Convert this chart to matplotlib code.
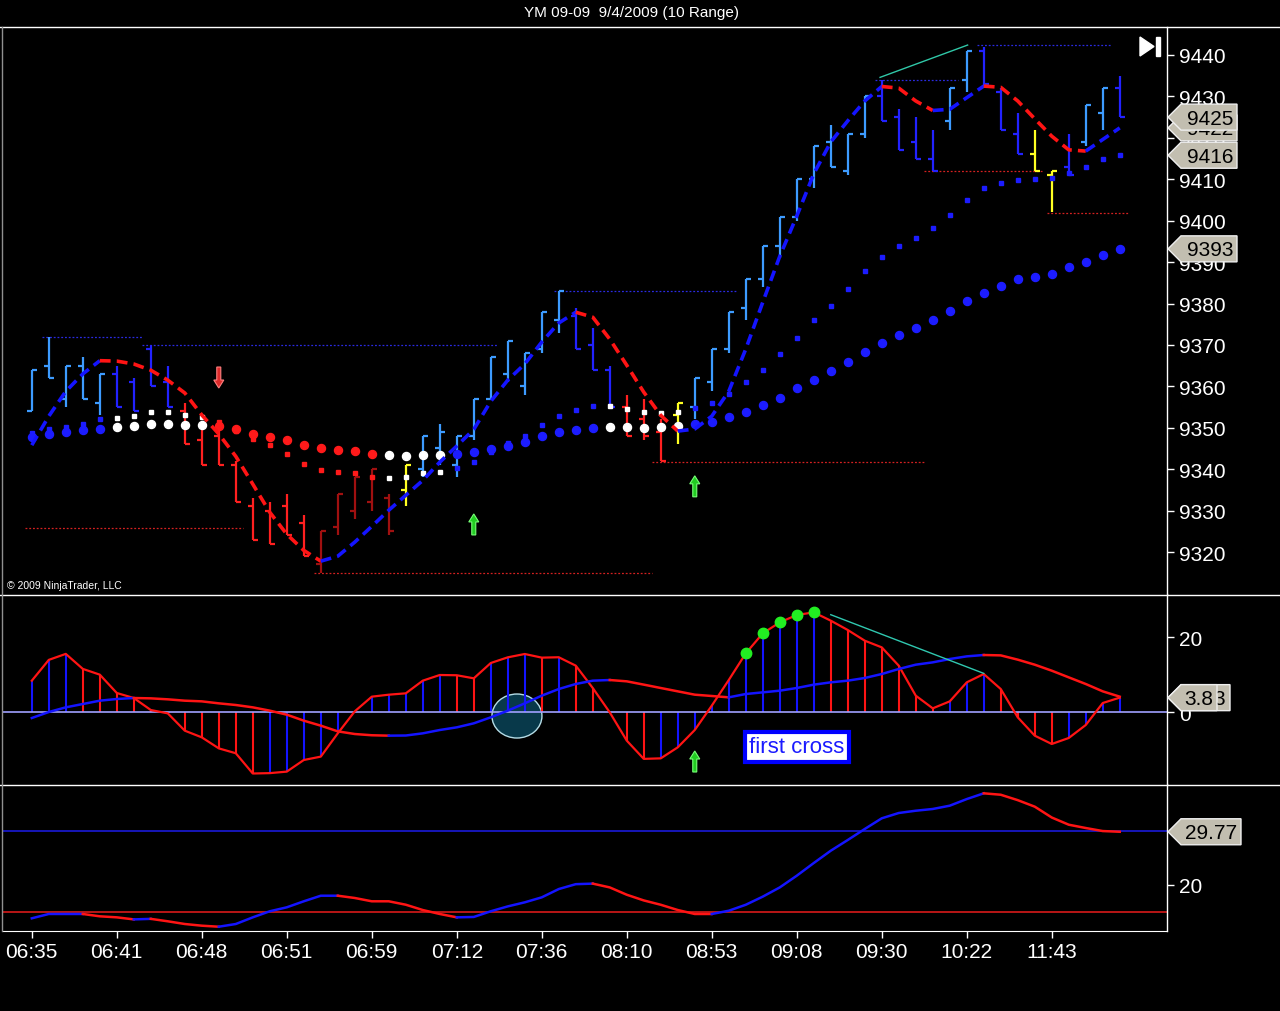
import matplotlib
matplotlib.use("Agg")
import matplotlib.pyplot as plt
from matplotlib.patches import Polygon, Ellipse, Rectangle

plt.rcParams['font.family'] = ['Liberation Sans', 'DejaVu Sans']

W, H, DPI = 1280, 1012, 100

# ---------------- data ----------------
title = "YM 09-09  9/4/2009 (10 Range)"
time_labels = ['06:35', '06:41', '06:48', '06:51', '06:59', '07:12', '07:36',
               '08:10', '08:53', '09:08', '09:30', '10:22', '11:43']

bar_high = [9364, 9372, 9365, 9367, 9363, 9365, 9362, 9370, 9365, 9356,
            9351, 9351, 9342, 9333, 9332, 9334, 9329, 9325, 9334, 9338,
            9340, 9334, 9341, 9348, 9351, 9348, 9357, 9367, 9371, 9368,
            9378, 9383, 9379, 9374, 9365, 9358, 9357, 9352, 9356, 9362,
            9369, 9378, 9386, 9394, 9401, 9410, 9418, 9423, 9421, 9430,
            9434, 9427, 9425, 9422, 9432, 9441, 9442, 9432, 9426, 9422,
            9412, 9421, 9428, 9432, 9435]
bar_low = [9354, 9362, 9355, 9357, 9353, 9355, 9354, 9360, 9355, 9346,
           9341, 9341, 9332, 9323, 9322, 9324, 9319, 9315, 9324, 9328,
           9330, 9324, 9331, 9338, 9341, 9338, 9347, 9357, 9361, 9358,
           9368, 9373, 9369, 9364, 9355, 9348, 9347, 9342, 9346, 9352,
           9359, 9368, 9376, 9384, 9391, 9400, 9408, 9413, 9411, 9420,
           9424, 9417, 9415, 9412, 9422, 9431, 9432, 9422, 9416, 9412,
           9402, 9411, 9418, 9422, 9425]
bar_open = [9354, 9365, 9357, 9365, 9356, 9363, 9361, 9369, 9361, 9354,
            9347, 9348, 9341, 9331, 9330, 9331, 9327, 9317, 9326, 9330,
            9332, 9333, 9335, 9340, 9345, 9341, 9348, 9357, 9363, 9360,
            9369, 9376, 9377, 9370, 9364, 9355, 9352, 9349, 9353, 9355,
            9361, 9369, 9379, 9386, 9394, 9401, 9410, 9419, 9412, 9421,
            9430, 9425, 9419, 9415, 9424, 9434, 9441, 9431, 9421, 9416,
            9411, 9413, 9419, 9426, 9432]
bar_close = [9364, 9362, 9365, 9357, 9363, 9355, 9354, 9360, 9355, 9346,
             9341, 9341, 9332, 9323, 9322, 9324, 9319, 9325, 9334, 9338,
             9340, 9325, 9341, 9348, 9349, 9348, 9357, 9367, 9371, 9368,
             9378, 9383, 9369, 9364, 9355, 9348, 9348, 9342, 9356, 9362,
             9369, 9378, 9386, 9394, 9401, 9410, 9418, 9413, 9421, 9430,
             9424, 9417, 9415, 9412, 9432, 9441, 9433, 9422, 9416, 9412,
             9412, 9411, 9428, 9432, 9425]
# LB light blue, DB dark blue, R red, DR dark red, Y yellow
bar_kind = ['LB'] * 5 + ['DB'] * 4 + ['R'] * 8 + ['DR'] * 5 + ['Y'] + \
           ['LB'] * 9 + ['DB'] * 3 + ['R'] * 3 + ['Y'] + ['LB'] * 11 + \
           ['DB'] * 4 + ['LB'] * 2 + ['DB'] * 3 + ['Y'] * 2 + ['DB'] + ['LB'] * 2 + ['DB']

trend_line = [9345.8, 9352.8, 9358.8, 9363.0, 9366.2, 9366.1, 9365.4, 9363.9, 9361.5, 9358.4,
              9353.1, 9348.5, 9343.1, 9336.4, 9329.6, 9324.3, 9320.4, 9317.8, 9319.0, 9322.4,
              9326.2, 9330.1, 9333.7, 9337.3, 9341.7, 9345.6, 9349.6, 9356.4, 9361.5, 9365.4,
              9370.7, 9375.3, 9377.9, 9376.7, 9371.4, 9365.1, 9358.6, 9353.0, 9349.2, 9349.7,
              9352.8, 9358.8, 9369.0, 9380.3, 9391.4, 9401.1, 9411.3, 9419.0, 9424.1, 9428.9,
              9432.4, 9432.0, 9428.9, 9426.6, 9426.9, 9429.7, 9432.5, 9432.2, 9428.9, 9424.6,
              9420.4, 9417.1, 9416.8, 9419.6, 9422.4]
stop_big = [9347.7, 9348.5, 9349.0, 9349.5, 9349.8, 9350.1, 9350.5, 9350.8, 9350.8, 9350.7,
            9350.6, 9350.5, 9349.8, 9348.5, 9347.7, 9347.1, 9345.8, 9345.1, 9344.7, 9344.3,
            9343.6, 9343.4, 9343.1, 9343.4, 9343.4, 9343.6, 9344.2, 9344.8, 9345.6, 9346.6,
            9347.9, 9348.9, 9349.4, 9349.9, 9350.2, 9350.2, 9350.0, 9350.2, 9350.4, 9350.9,
            9351.4, 9352.7, 9353.9, 9355.5, 9357.2, 9359.5, 9361.6, 9363.7, 9365.9, 9368.3,
            9370.5, 9372.4, 9374.1, 9376.0, 9378.2, 9380.6, 9382.5, 9384.2, 9385.9, 9386.5,
            9387.1, 9388.7, 9390.1, 9391.7, 9393.2]
stop_small = [9348.8, 9349.6, 9350.2, 9350.8, 9352.1, 9352.3, 9352.9, 9353.9, 9353.9, 9353.0,
              9352.7, 9351.3, 9349.2, 9347.3, 9345.8, 9343.6, 9341.2, 9339.8, 9339.4, 9339.0,
              9338.2, 9337.9, 9338.1, 9339.0, 9339.4, 9340.2, 9341.8, 9344.2, 9346.3, 9348.1,
              9350.7, 9352.9, 9354.3, 9355.3, 9355.3, 9354.5, 9353.9, 9353.5, 9353.7, 9354.7,
              9356.1, 9358.1, 9361.0, 9364.0, 9367.8, 9371.6, 9376.1, 9379.5, 9383.6, 9387.9,
              9391.2, 9393.8, 9395.9, 9398.2, 9401.4, 9405.1, 9407.8, 9409.0, 9409.8, 9410.1,
              9410.3, 9411.4, 9413.0, 9414.8, 9415.8]
dot_state = ['B'] * 5 + ['W'] * 6 + ['R'] * 10 + ['W'] * 4 + ['B'] * 9 + ['W'] * 5 + ['B'] * 26

level_price = [9372, 9370, 9325.7, 9315, 9383, 9341.8, 9434, 9442.4, 9412, 9401.8]
level_start = [0.6, 6.5, -0.4, 16.6, 30.7, 36.5, 49.6, 55.6, 52.5, 59.7]
level_end = [6.5, 27.4, 12.4, 36.5, 41.5, 52.5, 54.5, 63.5, 59.4, 64.5]
level_kind = ['hi', 'hi', 'lo', 'lo', 'hi', 'lo', 'hi', 'hi', 'lo', 'lo']

top_trend_x = [49.9, 55.05]
top_trend_y = [9434.6, 9442.4]

arrow_bar = [11, 26, 39]
arrow_price = [9359.6, 9329.2, 9338.4]
arrow_dir = ['down', 'up', 'up']

hist = [8.35, 13.9, 15.5, 11.5, 9.96, 5.07, 3.73, 0.53, -0.36, -4.98,
        -6.76, -9.7, -11.0, -16.4, -16.3, -15.9, -12.8, -11.9, -5.69, 0.18,
        4.09, 4.62, 4.98, 8.36, 9.87, 9.8, 8.98, 13.07, 14.58, 15.47,
        14.5, 14.6, 12.36, 6.4, -0.1, -7.64, -12.5, -12.36, -9.42, -4.8,
        1.69, 8.53, 15.64, 20.98, 23.9, 25.87, 26.58, 24.36, 21.87, 19.02,
        17.24, 12.36, 4.36, 0.98, 2.84, 7.91, 10.13, 6.13, -1.42, -6.31,
        -8.53, -6.93, -3.47, 2.4, 3.83]
signal = [-1.6, 0.0, 1.24, 2.13, 3.02, 3.47, 3.73, 3.64, 3.38, 3.02,
          2.84, 2.31, 1.87, 1.24, 0.36, -0.71, -2.31, -3.64, -5.16, -5.87,
          -6.2, -6.31, -6.27, -5.69, -4.8, -4.09, -3.02, -1.42, 0.36, 2.31,
          4.36, 6.13, 7.47, 8.36, 8.53, 8.18, 7.3, 6.4, 5.51, 4.62,
          4.27, 3.91, 4.8, 5.24, 5.69, 6.4, 7.29, 7.91, 8.36, 9.07,
          10.13, 11.47, 12.62, 13.24, 14.13, 14.84, 15.2, 15.1, 13.96, 12.62,
          11.02, 9.24, 7.47, 5.51, 4.09]
green_dot_bars = [42, 43, 44, 45, 46]
mid_trend_x = [47, 56]
mid_trend_y = [25.95, 10.3]
cross_circle = (28.54, -1.07)
mid_arrow_bar = 39
mid_arrow_val = -10.4
note_text = 'first cross'
note_pos = (45.0, -9.33)

adx = [13.8, 14.6, 14.6, 14.6, 14.17, 13.98, 13.6, 13.7, 13.25, 12.75,
       12.44, 12.25, 12.75, 13.98, 15.1, 15.83, 16.94, 17.97, 17.97, 17.55,
       16.94, 16.94, 16.31, 15.33, 14.6, 13.98, 14.05, 15.1, 16.0, 16.75,
       17.67, 19.2, 20.1, 20.2, 19.5, 18.15, 17.1, 16.3, 15.33, 14.6,
       14.6, 15.2, 16.3, 17.8, 19.5, 21.66, 24.0, 26.27, 28.25, 30.28,
       32.25, 33.23, 33.65, 33.97, 34.58, 35.8, 36.86, 36.6, 35.6, 34.4,
       32.4, 31.07, 30.46, 29.9, 29.77]
adx_upper, adx_lower = 30, 15

# ---------------- styles ----------------
BAR_COL = {'LB': '#3d9bff', 'DB': '#2222ff', 'R': '#ff2020', 'DR': '#a01010', 'Y': '#ffff22'}
DOT_COL = {'B': '#1c1cff', 'W': '#ffffff', 'R': '#ff1a1a'}
BLUE, RED = '#1414ff', '#ff1414'

n = len(bar_high)
xs = list(range(n))

fig = plt.figure(figsize=(W / DPI, H / DPI), dpi=DPI, facecolor='black')


def rect(x0, y0, x1, y1):
    return [x0 / W, 1 - y1 / H, (x1 - x0) / W, (y1 - y0) / H]


XL = (-1.694, 66.78)
ax1 = fig.add_axes(rect(3, 28, 1167, 595))
ax2 = fig.add_axes(rect(3, 595, 1167, 785))
ax3 = fig.add_axes(rect(3, 785, 1167, 932))
for ax in (ax1, ax2, ax3):
    ax.set_facecolor('black')
    ax.set_xlim(*XL)
    for s in ax.spines.values():
        s.set_visible(False)
    ax.spines['right'].set_visible(True)
    ax.spines['right'].set_color('white')
    ax.spines['right'].set_linewidth(1)
    ax.yaxis.tick_right()
    ax.tick_params(axis='y', colors='white', labelsize=15, length=5, width=1, pad=4)
    ax.tick_params(axis='x', bottom=False, labelbottom=False)

ax1.set_ylim(9309.87, 9446.76)
ax1.set_yticks(range(9320, 9441, 10))
ax2.set_ylim(-19.2, 31.47)
ax2.set_yticks([0, 20])
ax3.set_ylim(11.46, 38.58)
ax3.set_yticks([20])
ax3.spines['bottom'].set_visible(True)
ax3.spines['bottom'].set_color('white')
ax3.set_xticks(list(range(0, 5 * len(time_labels), 5)))
ax3.set_xticklabels(time_labels)
ax3.tick_params(axis='x', bottom=True, labelbottom=True, colors='white',
                labelsize=15, length=5, width=1, pad=3)


def colored_runs(ax, xv, yv, up_c, dn_c, **kw):
    cols = []
    prev = up_c
    for k in range(1, len(yv)):
        d = yv[k] - yv[k - 1]
        c = up_c if d > 0 else (dn_c if d < 0 else prev)
        cols.append(c)
        prev = c
    start = 0
    for k in range(1, len(cols) + 1):
        if k == len(cols) or cols[k] != cols[start]:
            ax.plot(xv[start:k + 1], yv[start:k + 1], color=cols[start], **kw)
            start = k


# ---------------- top panel ----------------
for p, a, b, kd in zip(level_price, level_start, level_end, level_kind):
    ax1.plot([a, b], [p, p], color='#2a2ae0' if kd == 'hi' else '#d42020',
             lw=0.9, ls=(0, (1.5, 1.5)), zorder=1)
ax1.plot(top_trend_x, top_trend_y, color='#30c8a8', lw=1, zorder=1)

cols = [BAR_COL[k] for k in bar_kind]
ax1.vlines(xs, bar_low, bar_high, colors=cols, lw=1.6, zorder=2)
ax1.hlines(bar_open, [x - 0.3 for x in xs], xs, colors=cols, lw=1.6, zorder=2)
ax1.hlines(bar_close, xs, [x + 0.3 for x in xs], colors=cols, lw=1.6, zorder=2)

for st, c in DOT_COL.items():
    sel = [i for i in xs if dot_state[i] == st]
    ax1.plot(sel, [stop_small[i] for i in sel], 's', ms=2.6, color=c, mec=c, ls='none', zorder=3)
    ax1.plot(sel, [stop_big[i] for i in sel], 'o', ms=5.8, color=c, mec=c, ls='none', zorder=3)

colored_runs(ax1, xs, trend_line, BLUE, RED, lw=2.6, ls=(0, (3, 1.7)),
             dash_capstyle='butt', zorder=4)

# ---------------- middle panel ----------------
ax2.add_patch(Ellipse(cross_circle, width=50 / 17, height=44 / 3.75,
                      fc='#08394a', ec='#b4dce6', lw=1, zorder=0.5))
hcols = []
for k in range(n):
    if k == 0 or hist[k] >= hist[k - 1]:
        hcols.append(BLUE)
    else:
        hcols.append(RED)
ax2.vlines(xs, 0, hist, colors=hcols, lw=1.5, zorder=2)
ax2.axhline(0, color='#a0a0ff', lw=1.2, zorder=2.5)
ax2.plot(xs, hist, color=RED, lw=1.6, zorder=3)
colored_runs(ax2, xs, signal, BLUE, RED, lw=1.8, zorder=4)
ax2.plot(green_dot_bars, [hist[i] for i in green_dot_bars], 'o', ms=7.5,
         color='#22ee22', mec='#22ee22', ls='none', zorder=5)
ax2.plot(mid_trend_x, mid_trend_y, color='#30c8b0', lw=1, zorder=4)
ax2.text(note_pos[0], note_pos[1], note_text, ha='center', va='center', color='#1a1aff',
         fontsize=16, zorder=6,
         bbox=dict(boxstyle='square,pad=0.2', fc='white', ec='#0000ff', lw=3))

# ---------------- bottom panel ----------------
ax3.axhline(adx_upper, color='#1a1ad8', lw=1.2, zorder=1)
ax3.axhline(adx_lower, color='#d81a1a', lw=1.2, zorder=1)
colored_runs(ax3, xs, adx, BLUE, RED, lw=1.8, zorder=3)

# ---------------- overlay ----------------
ov = fig.add_axes([0, 0, 1, 1], zorder=10)
ov.set_xlim(0, W)
ov.set_ylim(H, 0)
ov.axis('off')
ov.patch.set_alpha(0)


def to_px(ax, x, y):
    dx, dy = ax.transData.transform((x, y))
    return dx, H - dy


for yy in (27.5, 595.5, 785.5):
    ov.plot([0, W], [yy, yy], color='white', lw=1)
ov.plot([1.5, 1.5], [28, 932], color='#909090', lw=1)

ov.text(632, 13, title, ha='center', va='center', color='white', fontsize=11)
ov.text(7, 586, '\u00a9 2009 NinjaTrader, LLC', ha='left', va='center', color='white', fontsize=7.5)

# play-to-end icon
ov.add_patch(Polygon([(1140, 38), (1140, 57), (1154, 47.5)], closed=True, fc='white', ec='white'))
ov.add_patch(Rectangle((1156, 38), 3.5, 19, fc='white', ec='white'))


def draw_arrow(ax, xi, val, direction, fc, ec):
    x, y = to_px(ax, xi, val)
    s = 1 if direction == 'up' else -1
    pts = [(x, y), (x - 5, y + s * 8), (x - 2, y + s * 8), (x - 2, y + s * 21),
           (x + 2, y + s * 21), (x + 2, y + s * 8), (x + 5, y + s * 8)]
    ov.add_patch(Polygon(pts, closed=True, fc=fc, ec=ec, lw=0.8))


for b, p, d in zip(arrow_bar, arrow_price, arrow_dir):
    if d == 'up':
        draw_arrow(ax1, b, p, d, '#22cc22', '#77ff77')
    else:
        draw_arrow(ax1, b, p, d, '#dd2a2a', '#ff8080')
draw_arrow(ax2, mid_arrow_bar, mid_arrow_val, 'up', '#22cc22', '#77ff77')

label_layer = [20]


def value_label(ax, val, text, right=1237):
    z = label_layer[0]
    label_layer[0] += 1
    _, y = to_px(ax, 0, val)
    pts = [(1168, y), (1181, y - 13), (right, y - 13), (right, y + 13), (1181, y + 13)]
    ov.add_patch(Polygon(pts, closed=True, fc='#c2beb0', ec='#eeeeee', lw=1, zorder=z))
    ov.text(right - 4, y + 1, text, ha='right', va='center', fontsize=15, color='black',
            zorder=z + 0.5)


value_label(ax1, trend_line[-1], f'{trend_line[-1]:.0f}')
value_label(ax1, bar_close[-1], f'{bar_close[-1]:.0f}')
value_label(ax1, stop_small[-1], f'{stop_small[-1]:.0f}')
value_label(ax1, stop_big[-1], f'{stop_big[-1]:.0f}')
value_label(ax2, hist[-1], f'{hist[-1]:.2f}', right=1230)
value_label(ax2, hist[-1], f'{hist[-1]:.2f}'[:3], right=1217)
value_label(ax3, adx[-1], f'{adx[-1]:.2f}', right=1241)

fig.savefig('out.png', dpi=DPI, facecolor='black')
